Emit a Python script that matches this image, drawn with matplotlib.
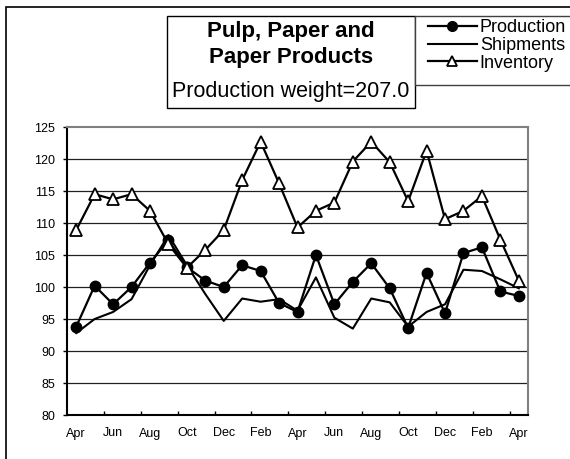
import matplotlib
matplotlib.use("Agg")
import matplotlib.pyplot as plt
from matplotlib.patches import Rectangle
from matplotlib.lines import Line2D

plt.rcParams['font.family'] = ['Liberation Sans', 'DejaVu Sans']

months = ["Apr", "May", "Jun", "Jul", "Aug", "Sep", "Oct", "Nov", "Dec", "Jan", "Feb", "Mar",
          "Apr", "May", "Jun", "Jul", "Aug", "Sep", "Oct", "Nov", "Dec", "Jan", "Feb", "Mar", "Apr"]

production = [93.8, 100.2, 97.3, 100.0, 103.8, 107.3, 103.1, 101.0, 100.0, 103.4, 102.5, 97.5,
              96.1, 105.0, 97.3, 100.8, 103.7, 99.8, 93.6, 102.2, 95.9, 105.3, 106.2, 99.3, 98.6]
shipments = [92.8, 95.0, 96.1, 98.1, 103.4, 108.1, 103.4, 98.9, 94.7, 98.2, 97.7, 98.1,
             96.3, 101.5, 95.2, 93.5, 98.2, 97.6, 93.8, 96.1, 97.3, 102.7, 102.5, 101.2, 99.8]
inventory = [108.9, 114.5, 113.7, 114.5, 111.9, 106.7, 103.0, 105.8, 108.9, 116.7, 122.7, 116.2,
             109.3, 111.9, 113.2, 119.6, 122.7, 119.5, 113.4, 121.3, 110.6, 111.9, 114.2, 107.4, 101.0]

series_names = ["Production", "Shipments", "Inventory"]
title_lines = ["Pulp, Paper and", "Paper Products"]
subtitle = "Production weight=207.0"

W, H = 570, 459
fig = plt.figure(figsize=(W / 100, H / 100), dpi=100)

def fx(px):
    return px / W

def fy(py):
    return 1 - py / H

ax = fig.add_axes([fx(67), fy(415), fx(528) - fx(67), fy(127) - fy(415)])

x = list(range(len(months)))
ax.plot(x, production, color='black', lw=1.6, marker='o', ms=7.5, mfc='black', mec='black', zorder=3)
ax.plot(x, shipments, color='black', lw=1.5, zorder=3)
ax.plot(x, inventory, color='black', lw=1.6, marker='^', ms=8, mfc='white', mec='black', mew=1.3, zorder=4)

ax.set_xlim(-0.5, len(months) - 0.5)
ax.set_ylim(80, 125)
ax.set_yticks(range(80, 126, 5))
for v in range(85, 125, 5):
    ax.axhline(v, color='#202020', lw=0.9, zorder=1)

# tick marks between categories, labels on every other month
ax.set_xticks([i - 0.5 for i in range(2, len(months), 2)])
ax.set_xticklabels([])
ax.set_xticks(x[::2], minor=True)
ax.set_xticklabels(months[::2], minor=True)
ax.tick_params(axis='x', which='major', direction='in', length=3, width=1, color='black')
ax.tick_params(axis='x', which='minor', length=0, labelsize=9, pad=9)
ax.tick_params(axis='y', direction='out', length=3, width=1, labelsize=9, pad=5.5)

ax.spines['left'].set_linewidth(1.5)
ax.spines['bottom'].set_linewidth(1.5)
ax.spines['top'].set_color('#808080')
ax.spines['right'].set_color('#808080')
ax.spines['top'].set_linewidth(1.5)
ax.spines['right'].set_linewidth(1.5)

# outer chart border
fig.patches.append(Rectangle((fx(6), -0.2), 1.2, fy(7) + 0.2, transform=fig.transFigure,
                             fill=False, edgecolor='black', lw=1.2))

# title box
fig.patches.append(Rectangle((fx(167), fy(108)), fx(415) - fx(167), fy(16) - fy(108),
                             transform=fig.transFigure, facecolor='white', edgecolor='black', lw=1))
fig.text(fx(291), fy(32), title_lines[0], ha='center', va='center', fontsize=16, fontweight='bold')
fig.text(fx(291), fy(58), title_lines[1], ha='center', va='center', fontsize=16, fontweight='bold')
fig.text(fx(291), fy(91), subtitle, ha='center', va='center', fontsize=15.5)

# legend box
fig.patches.append(Rectangle((fx(415), fy(85)), 0.5, fy(16) - fy(85),
                             transform=fig.transFigure, facecolor='white', edgecolor='#404040', lw=1))
handles = [Line2D([], [], color='black', lw=1.6, marker='o', ms=7, mfc='black'),
           Line2D([], [], color='black', lw=1.5),
           Line2D([], [], color='black', lw=1.6, marker='^', ms=7, mfc='white', mew=1.3)]
leg = fig.legend(handles, series_names, loc='upper left',
                 bbox_to_anchor=(fx(428), fy(19)), fontsize=13, frameon=False,
                 borderaxespad=0, borderpad=0, labelspacing=0.05, handlelength=2.7,
                 handletextpad=0.17)

fig.savefig("out.png", dpi=100)
